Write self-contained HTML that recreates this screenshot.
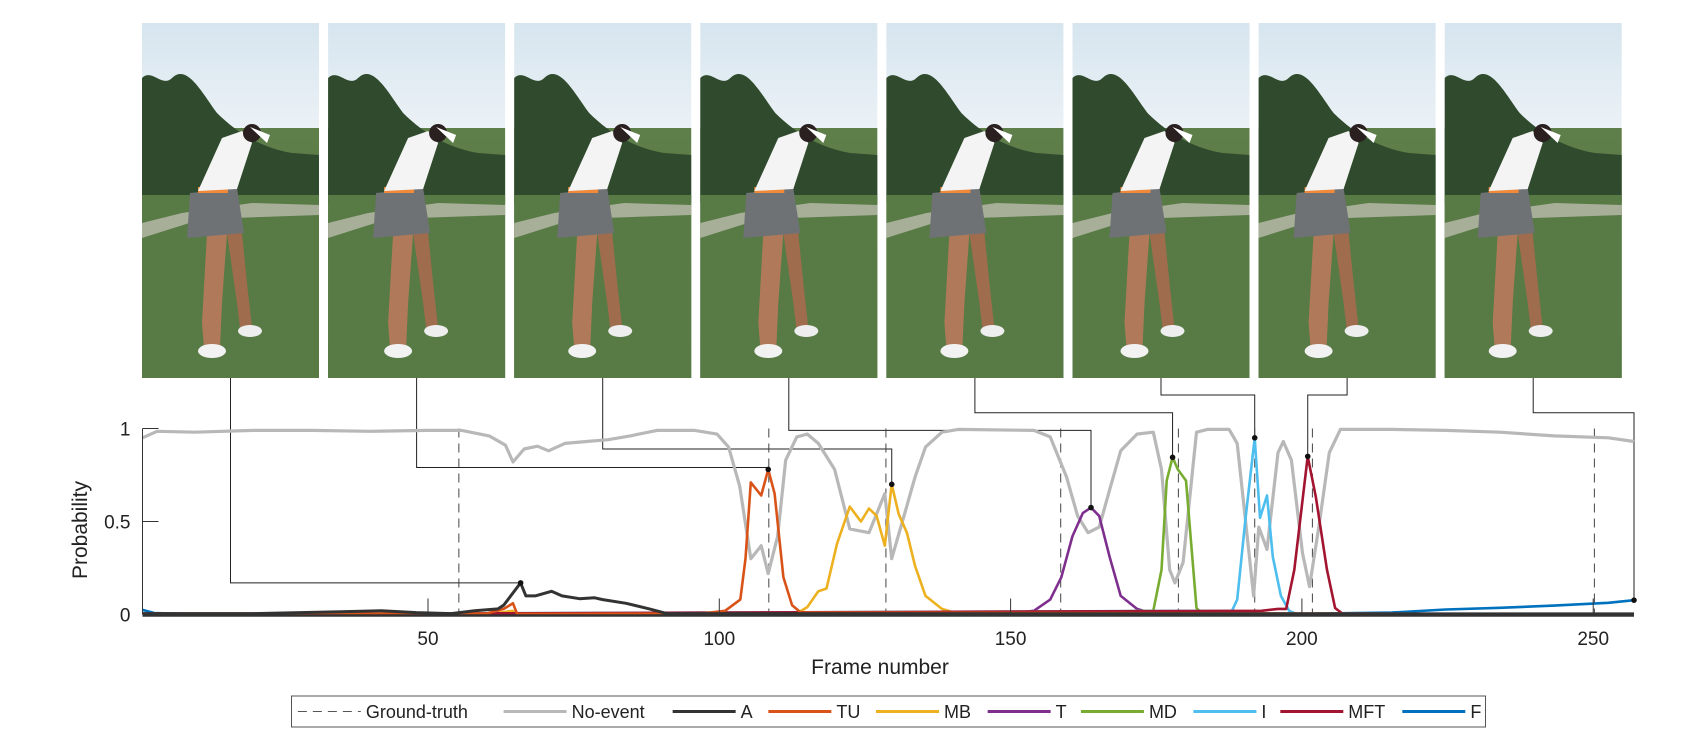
<!DOCTYPE html>
<html><head><meta charset="utf-8"><style>
html,body{margin:0;padding:0;background:#fff;}
svg{display:block;font-family:"Liberation Sans",Arial,sans-serif;}
</style></head><body>
<svg id="fig" width="1698" height="746" viewBox="0 0 1698 746" xmlns="http://www.w3.org/2000/svg">
<defs>
<linearGradient id="sky" x1="0" y1="0" x2="0" y2="1">
<stop offset="0" stop-color="#d6e5ef"/><stop offset="0.4" stop-color="#f3f6f8"/><stop offset="1" stop-color="#e6eef3"/>
</linearGradient>
<linearGradient id="grass" x1="0" y1="0" x2="0" y2="1">
<stop offset="0" stop-color="#5f7f4a"/><stop offset="1" stop-color="#4d6b3c"/>
</linearGradient>
</defs>
<g id="photos"></g>
<g id="connectors"></g>
<g id="plot"></g>
<g id="axes"></g>
<g id="legend"></g>
</svg>
<script>
// ---- data ----
const xTicks = [50, 100, 150, 200, 250];
const yTicks = [0, 0.5, 1];
const yTickLabels = ["0", "0.5", "1"];
const groundTruth = [55.3, 108.5, 128.6, 158.6, 178.8, 191.9, 201.8, 250.2];

const noEventF = [1,3.5,10,20,30,40,50,55.8,60.5,63.3,64.6,66.5,68.8,70.7,73.5,77.2,80.9,84.7,89.3,95.8,99.6,101.6,103.5,105.4,107.2,108.4,110,111.4,113.3,115.1,117,119.8,122.4,125.7,128.4,129.6,131.7,133.6,135.4,138.2,141,154,156.8,159.6,161.5,163.3,165.2,167,168.9,171.7,174.5,175.9,177.3,178.2,179.6,181.9,183.8,187.5,188.9,190.3,191.7,192.6,194,195.9,196.8,198.2,200.1,201.3,202.9,204.7,206.6,215.4,224.7,234,243.3,252.6,257];
const noEventV = [0.95,0.985,0.98,0.99,0.99,0.985,0.99,0.99,0.96,0.91,0.82,0.89,0.905,0.88,0.92,0.93,0.94,0.96,0.99,0.99,0.97,0.9,0.69,0.3,0.37,0.22,0.42,0.83,0.955,0.97,0.92,0.78,0.46,0.44,0.65,0.3,0.53,0.74,0.9,0.98,0.995,0.99,0.955,0.74,0.53,0.44,0.47,0.67,0.88,0.97,0.98,0.78,0.24,0.17,0.28,0.98,0.995,0.995,0.92,0.51,0.1,0.47,0.35,0.87,0.93,0.83,0.33,0.15,0.47,0.87,0.995,0.995,0.99,0.98,0.96,0.95,0.93];

const aF = [1,20,35,42,48,54,58,62,63,65.9,66.8,68.4,71.2,73,76,78.6,80,84,88,91,257];
const aV = [0.005,0.005,0.015,0.02,0.01,0.005,0.02,0.03,0.05,0.17,0.1,0.1,0.125,0.1,0.085,0.09,0.08,0.06,0.03,0.005,0.003];
const tuF = [1,60,63,64.6,65.3,97,101,103.6,104.5,105.4,107.2,108.4,109.5,111,112.5,114,120,257];
const tuV = [0.005,0.005,0.03,0.06,0.003,0.005,0.02,0.08,0.3,0.71,0.64,0.78,0.65,0.2,0.05,0.01,0.01,0.002];
const mbF = [1,60,64.5,65.3,113,115.1,117,118.4,120.2,122.4,124.3,125.7,127,128.4,129.6,130.8,132.2,133.6,135.4,138.2,141,257];
const mbV = [0,0,0.02,0,0,0.04,0.125,0.14,0.38,0.58,0.5,0.57,0.53,0.37,0.7,0.54,0.44,0.26,0.1,0.03,0.003,0];
const tF = [1,150,154,156.8,158.7,160.6,162.4,163.8,165.2,167,168.9,171.7,174.5,257];
const tV = [0,0.005,0.02,0.08,0.2,0.42,0.545,0.575,0.53,0.31,0.1,0.03,0.003,0];
const mdF = [1,127,128.5,130,174.5,175.9,176.8,177.8,178.7,180.1,181,181.9,182.9,257];
const mdV = [0,0,0.015,0,0.02,0.24,0.72,0.845,0.78,0.72,0.38,0.035,0.003,0];
const iF = [1,188,188.9,190.3,191.9,192.8,194,195,196.4,197.8,199,257];
const iV = [0,0.02,0.08,0.51,0.95,0.52,0.64,0.31,0.1,0.02,0.003,0];
const mftF = [1,193.1,195.9,197.3,198.7,201,202.4,204.3,205.7,207,257];
const mftV = [0,0.02,0.03,0.03,0.24,0.85,0.63,0.24,0.035,0.003,0];
const fF = [1,3,8,200,215.4,224.7,234,243.3,252.6,257];
const fV = [0.025,0.008,0.004,0.004,0.01,0.027,0.036,0.048,0.063,0.077];

const peakFrames = [65.9,108.4,129.6,163.8,177.8,191.9,201,257];
const peakValues = [0.17,0.78,0.7,0.575,0.845,0.95,0.85,0.077];
const connLevels = [0.17,0.79,0.89,0.99,1.085,1.18,1.18,1.085];

const legendNames = ["Ground-truth","No-event","A","TU","MB","T","MD","I","MFT","F"];
const legendColors = ["#555","#b8b8b8","#333333","#d95319","#edb120","#7e2f8e","#77ac30","#4dbeee","#a2142f","#0072bd"];

// ---- scales ----
const X0=142.5, X1=1634, F0=1, F1=257, Y0=614.5, Y1=428.5;
function sx(f){return X0+(f-F0)*(X1-X0)/(F1-F0);}
function sy(v){return Y0-(v)*(Y0-Y1);}
const NS="http://www.w3.org/2000/svg";
function mk(tag, attrs, parent){const e=document.createElementNS(NS,tag);for(const k in attrs)e.setAttribute(k,attrs[k]);parent.appendChild(e);return e;}

// ---- photos ----
const photos=document.getElementById('photos');
const bodyX=[70,70,68,68,68,62,60,58];
for(let i=0;i<8;i++){
  const px=142+i*186.1, py=23, w=177, h=355;
  const g=mk('g',{transform:`translate(${px},${py})`},photos);
  
  
  mk('rect',{x:0,y:0,width:w,height:h,fill:'url(#sky)'},g);
  mk('rect',{x:0,y:105,width:w,height:h-105,fill:'url(#grass)'},g);
  mk('path',{d:`M0,55 C10,45 20,65 30,55 C45,40 60,70 75,90 C95,110 120,125 150,130 L177,132 L177,180 L0,180 Z`,fill:'#2f4a2c'},g);
  mk('rect',{x:0,y:172,width:w,height:h-172,fill:'#587a45'},g);
  mk('path',{d:`M0,200 L40,190 L110,180 L177,182 L177,192 L60,196 L0,215 Z`,fill:'#c9c6bd',opacity:0.7},g);
  const bx=bodyX[i];
  const b=mk('g',{transform:`translate(${bx},0)`},g);
  mk('path',{d:'M-5,210 L-10,300 L-8,325 L8,325 L10,280 L15,210 Z',fill:'#b07a5a'},b);
  mk('path',{d:'M15,210 L25,280 L28,305 L40,305 L35,260 L30,210 Z',fill:'#a06c4e'},b);
  mk('ellipse',{cx:0,cy:328,rx:14,ry:7,fill:'#f2f2f2'},b);
  mk('ellipse',{cx:38,cy:308,rx:12,ry:6,fill:'#eeeeee'},b);
  mk('path',{d:'M-22,170 L25,165 L32,210 L-25,215 Z',fill:'#6f7275'},b);
  mk('rect',{x:-14,y:164,width:30,height:6,fill:'#f08a3a'},b);
  mk('path',{d:'M-14,168 L25,166 L40,120 L30,108 L10,115 Z',fill:'#f4f4f4'},b);
  mk('circle',{cx:40,cy:110,r:9,fill:'#2a2020'},b);
  mk('path',{d:'M38,104 L58,112 L55,120 Z',fill:'#ffffff'},b);
}

// ---- ground truth ----
const plot=document.getElementById('plot');
groundTruth.forEach((f,i)=>{
  const l=mk('line',{x1:sx(f),x2:sx(f),y1:Y1,y2:Y0,stroke:'#444','stroke-width':1,'stroke-dasharray':'9,6'},plot);
  
  
});

function series(F,V,color,w,name){
  const pts=F.map((f,i)=>sx(f).toFixed(1)+','+sy(V[i]).toFixed(1)).join(' ');
  const p=mk('polyline',{points:pts,fill:'none',stroke:color,'stroke-width':w,'stroke-linejoin':'round'},plot);
  
  
}
series(noEventF,noEventV,'#b8b8b8',3.2,'series-no-event');
series(fF,fV,'#0072bd',2.6,'series-f');
series(mbF,mbV,'#edb120',2.6,'series-mb');
series(tF,tV,'#7e2f8e',2.6,'series-t');
series(mdF,mdV,'#77ac30',2.6,'series-md');
series(iF,iV,'#4dbeee',2.6,'series-i');
series(mftF,mftV,'#a2142f',2.6,'series-mft');
series(tuF,tuV,'#d95319',2.6,'series-tu');
series(aF,aV,'#333333',3,'series-a');

// ---- connectors ----
const conn=document.getElementById('connectors');
for(let i=0;i<8;i++){
  const cx=142+i*186.1+88.5;
  const x=sx(peakFrames[i]), yl=sy(connLevels[i]), yp=sy(peakValues[i]);
  const p=mk('polyline',{points:`${cx},378 ${cx},${yl} ${x},${yl} ${x},${yp}`,fill:'none',stroke:'#222','stroke-width':1},conn);
  
  
  const d=mk('circle',{cx:x,cy:yp,r:2.8,fill:'#111'},plot);
  
  
}

// ---- axes ----
const ax=document.getElementById('axes');
let e=mk('line',{x1:X0,x2:X0,y1:Y1,y2:Y0,stroke:'#333','stroke-width':1},ax);

e=mk('line',{x1:X0,x2:X1,y1:Y0+1,y2:Y0+1,stroke:'#333','stroke-width':2.5},ax);

yTicks.forEach((v,i)=>{
  const t=mk('line',{x1:X0,x2:X0+16,y1:sy(v),y2:sy(v),stroke:'#333','stroke-width':1},ax);
  
  const l=mk('text',{x:X0-12,y:sy(v)+7,'text-anchor':'end','font-size':19,fill:'#222'},ax);
  l.textContent=yTickLabels[i];
  
});
xTicks.forEach(f=>{
  const t=mk('line',{x1:sx(f),x2:sx(f),y1:Y0,y2:Y0-16,stroke:'#333','stroke-width':1},ax);
  
  const l=mk('text',{x:sx(f),y:645,'text-anchor':'middle','font-size':19,fill:'#222'},ax);
  l.textContent=String(f);
  
});
e=mk('text',{x:880,y:674,'text-anchor':'middle','font-size':21,fill:'#222'},ax);
e.textContent='Frame number';

e=mk('text',{x:0,y:0,'text-anchor':'middle','font-size':21,fill:'#222',transform:'translate(87,530) rotate(-90)'},ax);
e.textContent='Probability';


// ---- legend ----
const lg=document.getElementById('legend');
e=mk('rect',{x:291.5,y:696,width:1194,height:31,fill:'#fff',stroke:'#555','stroke-width':1},lg);

const lineStarts=[60,318,530,650,785,925,1042,1183,1292,1445];
legendNames.forEach((n,i)=>{
  const x=250+lineStarts[i]/1.254;
  const g=mk('g',{},lg);
  
  
  mk('line',{x1:x,x2:x+63,y1:711.5,y2:711.5,stroke:legendColors[i],'stroke-width':i===0?1:3,'stroke-dasharray':i===0?'9,6':'none'},g);
  const t=mk('text',{x:x+68,y:718,'font-size':18,fill:'#222'},g);
  t.textContent=n;
});
</script>
</body></html>
